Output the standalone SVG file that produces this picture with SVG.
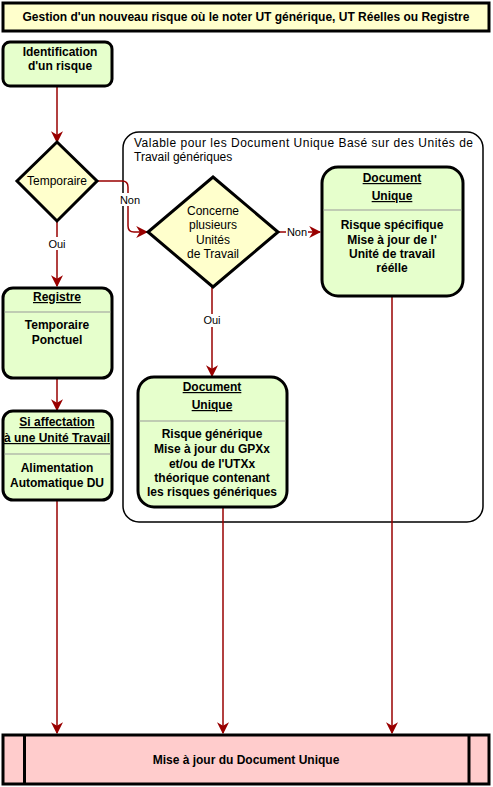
<svg xmlns="http://www.w3.org/2000/svg" width="493" height="787" viewBox="0 0 493 787">
  <style>
    text { font-family: "Liberation Sans", Arial, sans-serif; font-size: 12px; fill: #000; }
    .b { font-weight: bold; }
    .u { text-decoration: underline; }
    .s { font-size: 11px; }
    .box { fill: #E6FFCC; stroke: #000; stroke-width: 3; }
    .dia { fill: #FFFFCC; stroke: #000; stroke-width: 3; }
    .sep { stroke: #999; stroke-width: 1; }
    .edge { fill: none; stroke: #990000; stroke-width: 1.5; marker-end: url(#arr); }
    .lbl { fill: #fff; }
  </style>
  <defs>
    <marker id="arr" markerUnits="userSpaceOnUse" markerWidth="12" markerHeight="12" viewBox="0 0 10 10" refX="9" refY="5" orient="auto">
      <path d="M0,0 L10,5 L0,10 L3,5 z" fill="#990000"/>
    </marker>
  </defs>

  <!-- title banner -->
  <g id="title">
    <rect x="3" y="3" width="486" height="28" fill="#FFFFCC" stroke="#000" stroke-width="3"/>
    <text class="b" x="246" y="21" text-anchor="middle">Gestion d'un nouveau risque où le noter UT générique, UT Réelles ou Registre</text>
  </g>

  <!-- container for generic work units -->
  <g id="container">
    <rect x="123" y="132" width="360" height="390" rx="16" fill="none" stroke="#000" stroke-width="1.5"/>
    <text x="134" y="147" textLength="339" lengthAdjust="spacing">Valable pour les Document Unique Basé sur des Unités de</text>
    <text x="134" y="161">Travail génériques</text>
  </g>

  <!-- connectors -->
  <g id="connectors">
    <path class="edge" d="M57,87 V142"/>
    <path class="edge" d="M97,181 H122 Q128,181 128,187 V226 Q128,232 134,232 H147"/>
    <rect class="lbl" x="119" y="193" width="22" height="13"/>
    <text class="s" x="130" y="204" text-anchor="middle">Non</text>
    <path class="edge" d="M57,221 V286"/>
    <rect class="lbl" x="47" y="237" width="20" height="13"/>
    <text class="s" x="57" y="248" text-anchor="middle">Oui</text>
    <path class="edge" d="M57,378 V410"/>
    <path class="edge" d="M278,232 H320"/>
    <rect class="lbl" x="286" y="226" width="22" height="13"/>
    <text class="s" x="297" y="236" text-anchor="middle">Non</text>
    <path class="edge" d="M212,287 V376"/>
    <rect class="lbl" x="202" y="314" width="20" height="13"/>
    <text class="s" x="212" y="324" text-anchor="middle">Oui</text>
    <path class="edge" d="M57,500 V733"/>
    <path class="edge" d="M223,507 V733"/>
    <path class="edge" d="M392,296 V733"/>
  </g>

  <g id="identification">
    <rect class="box" x="3" y="42" width="109" height="44" rx="7"/>
    <text class="b" x="60" y="56" text-anchor="middle">Identification</text>
    <text class="b" x="60" y="70" text-anchor="middle">d'un risque</text>
  </g>

  <g id="temporaire">
    <polygon class="dia" points="57,142 97,181 57,221 17,181"/>
    <text x="57" y="185" text-anchor="middle">Temporaire</text>
  </g>

  <g id="registre">
    <rect class="box" x="3" y="288" width="109" height="90" rx="10"/>
    <line class="sep" x1="4.5" y1="312" x2="110.5" y2="312"/>
    <text class="b u" x="57" y="301" text-anchor="middle">Registre</text>
    <text class="b" x="57" y="329" text-anchor="middle">Temporaire</text>
    <text class="b" x="57" y="344" text-anchor="middle">Ponctuel</text>
  </g>

  <g id="affectation">
    <rect class="box" x="3" y="411" width="109" height="89" rx="10"/>
    <line class="sep" x1="4.5" y1="454" x2="110.5" y2="454"/>
    <text class="b u" x="57" y="426" text-anchor="middle">Si affectation</text>
    <text class="b u" x="57" y="442" text-anchor="middle">à une Unité Travail</text>
    <text class="b" x="57" y="472" text-anchor="middle">Alimentation</text>
    <text class="b" x="57" y="487" text-anchor="middle">Automatique DU</text>
  </g>

  <g id="plusieurs-ut">
    <polygon class="dia" points="213,177 278,232 213,287 148,232"/>
    <text x="213" y="215" text-anchor="middle">Concerne</text>
    <text x="213" y="229" text-anchor="middle">plusieurs</text>
    <text x="213" y="244" text-anchor="middle">Unités</text>
    <text x="213" y="258" text-anchor="middle">de Travail</text>
  </g>

  <g id="du-reelle">
    <rect class="box" x="322" y="167" width="141" height="129" rx="16"/>
    <line class="sep" x1="323.5" y1="210" x2="461.5" y2="210"/>
    <text class="b u" x="392" y="182" text-anchor="middle">Document</text>
    <text class="b u" x="392" y="200" text-anchor="middle">Unique</text>
    <text class="b" x="392" y="229" text-anchor="middle">Risque spécifique</text>
    <text class="b" x="392" y="244" text-anchor="middle">Mise à jour de l'</text>
    <text class="b" x="392" y="258" text-anchor="middle">Unité de travail</text>
    <text class="b" x="392" y="272" text-anchor="middle">réélle</text>
  </g>

  <g id="du-generique">
    <rect class="box" x="138" y="377" width="149" height="130" rx="16"/>
    <line class="sep" x1="139.5" y1="421" x2="285.5" y2="421"/>
    <text class="b u" x="212" y="391" text-anchor="middle">Document </text>
    <text class="b u" x="212" y="409" text-anchor="middle">Unique</text>
    <text class="b" x="212" y="438" text-anchor="middle">Risque générique</text>
    <text class="b" x="212" y="453" text-anchor="middle">Mise à jour du GPXx</text>
    <text class="b" x="212" y="468" text-anchor="middle">et/ou de l'UTXx</text>
    <text class="b" x="212" y="482" text-anchor="middle">théorique contenant</text>
    <text class="b" x="212" y="496" text-anchor="middle">les risques génériques</text>
  </g>

  <g id="mise-a-jour">
    <rect x="3" y="735" width="486" height="49" fill="#FFCCCC" stroke="#000" stroke-width="3"/>
    <line x1="24.5" y1="735" x2="24.5" y2="784" stroke="#000" stroke-width="3"/>
    <line x1="469" y1="735" x2="469" y2="784" stroke="#000" stroke-width="3"/>
    <text class="b" x="246" y="764" text-anchor="middle">Mise à jour du Document Unique</text>
  </g>
</svg>
